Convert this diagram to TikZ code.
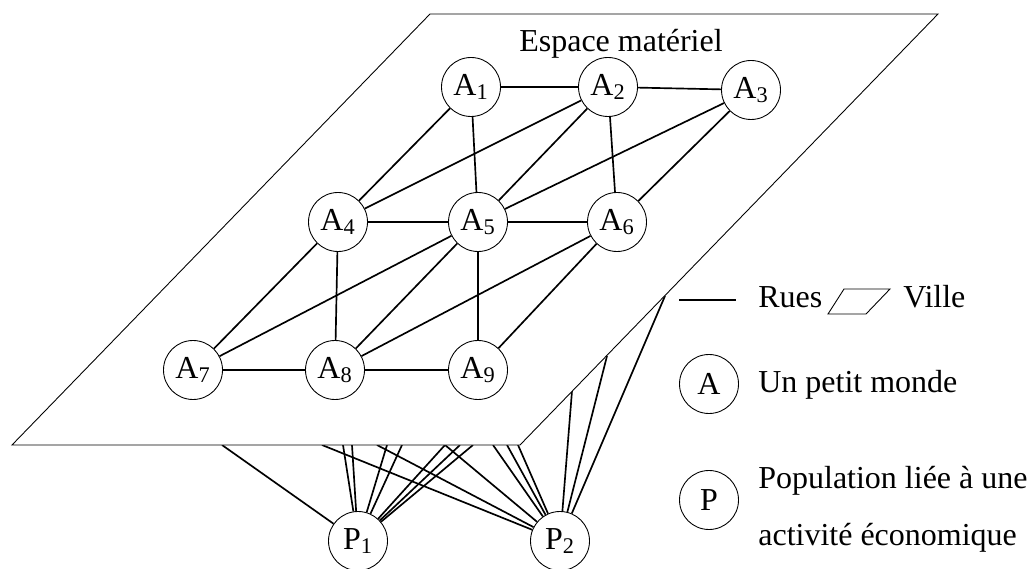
\documentclass[tikz,border=0pt]{standalone}
\usepackage{fontspec}
\setmainfont{Liberation Serif}

\begin{document}
\begin{tikzpicture}[x=0.2mm, y=0.2mm,
	every node/.style={font=\fontsize{18.2}{21}\selectfont},
	monde/.style={draw, circle, fill=white, inner sep=0pt, minimum size=11.8mm, line width=0.5pt},
	rue/.style={line width=0.95pt},
	ville/.style={draw, fill=white, line width=0.5pt},
	texte/.style={anchor=base west, inner sep=0pt}]
	\useasboundingbox (0,0) rectangle (1028,568);
	% populations and their links, partly hidden by the city
	\node[monde] (p1) at (358,27) {P\textsubscript{1}};
	\node[monde] (p2) at (560,27) {P\textsubscript{2}};
	\foreach \x in {222,343,352,387,402,445,460,473}
	{\coordinate (bout) at (\x,123); \draw[rue] (p1) -- (bout);}
	\foreach \x/\y in {322/123,377/123,445/123,493/123,507/123,518/123,572/177,607/212,665/272}
	{\coordinate (bout) at (\x,\y); \draw[rue] (p2) -- (bout);}
	% the city
	\draw[ville] (12,123) -- (520,123) -- (938,554) -- (430,554) -- cycle;
	\node[anchor=base] (titre) at (621,516) {Espace matériel};
	\foreach \n/\x/\y in {1/471/481, 2/608/481, 3/751/478, 4/338/346, 5/478/346, 6/617/346, 7/193/198, 8/335/198, 9/478/198}
	\node[monde] (a\n) at (\x,\y) {A\textsubscript{\n}};
	\foreach \u/\v in {1/2, 2/3, 1/4, 1/5, 2/4, 2/5, 2/6, 3/5, 3/6, 4/5, 5/6, 4/7, 4/8, 5/7, 5/8, 5/9, 6/8, 6/9, 7/8, 8/9}
	\draw[rue] (a\u) -- (a\v);
	% legend
	\coordinate (r1) at (679,268);
	\coordinate (r2) at (736,268);
	\draw[rue] (r1) -- (r2);
	\node[texte] (rues) at (758,260) {Rues};
	\draw[ville] (828,254) -- (866,254) -- (890,279) -- (844,279) -- cycle;
	\node[texte] (villes) at (903,260) {Ville};
	\node[monde] (la) at (709,184) {A};
	\node[texte] (lmonde) at (758,175) {Un petit monde};
	\node[monde] (lp) at (709,68) {P};
	\node[texte] (lpop1) at (758,80) {Population liée à une};
	\node[texte] (lpop2) at (758,23) {activité économique};
\end{tikzpicture}
\end{document}
